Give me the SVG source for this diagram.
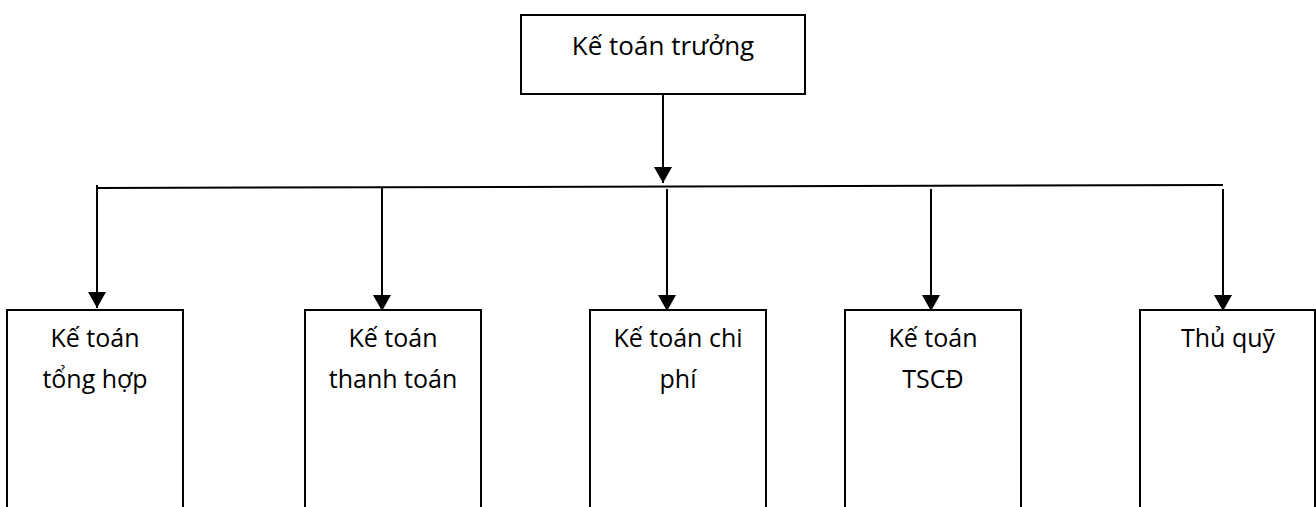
<svg xmlns="http://www.w3.org/2000/svg" width="1316" height="507" viewBox="0 0 1316 507">
<style>
.box{fill:#fff;stroke:#000;stroke-width:2}
.ln{fill:none;stroke:#000;stroke-width:2}
.t{font-family:"Open Sans","Noto Sans","DejaVu Sans",sans-serif;font-size:25px;fill:#000;text-anchor:middle}
.tt{font-size:26px}
</style>
<defs>
<marker id="ah" markerUnits="userSpaceOnUse" markerWidth="16" markerHeight="18" refX="16" refY="9" orient="auto">
<path d="M0,0 L16,9 L0,18 z" fill="#000"/>
</marker>
</defs>
<g id="connectors">
<line class="ln" x1="663" y1="94" x2="663" y2="183" marker-end="url(#ah)"/>
<line class="ln" x1="97" y1="188" x2="1223" y2="185"/>
<line class="ln" x1="97" y1="185" x2="97" y2="308" marker-end="url(#ah)"/>
<line class="ln" x1="382" y1="188" x2="382" y2="311" marker-end="url(#ah)"/>
<line class="ln" x1="667" y1="189" x2="667" y2="311" marker-end="url(#ah)"/>
<line class="ln" x1="931" y1="189" x2="931" y2="311" marker-end="url(#ah)"/>
<line class="ln" x1="1223" y1="189" x2="1223" y2="311" marker-end="url(#ah)"/>
</g>
<g id="ke-toan-truong">
<rect class="box" x="521" y="15" width="284" height="79"/>
<text class="t tt" x="663" y="55">Kế toán trưởng</text>
</g>
<g id="ke-toan-tong-hop">
<rect class="box" x="7" y="310" width="176" height="220"/>
<text class="t" x="95" y="347">Kế toán</text>
<text class="t" x="95" y="388">tổng hợp</text>
</g>
<g id="ke-toan-thanh-toan">
<rect class="box" x="305" y="310" width="176" height="220"/>
<text class="t" x="393" y="347">Kế toán</text>
<text class="t" x="393" y="388">thanh toán</text>
</g>
<g id="ke-toan-chi-phi">
<rect class="box" x="590" y="310" width="176" height="220"/>
<text class="t" x="678" y="347">Kế toán chi</text>
<text class="t" x="678" y="388">phí</text>
</g>
<g id="ke-toan-tscd">
<rect class="box" x="845" y="310" width="176" height="220"/>
<text class="t" x="933" y="347">Kế toán</text>
<text class="t" x="933" y="388">TSCĐ</text>
</g>
<g id="thu-quy">
<rect class="box" x="1140" y="310" width="175" height="220"/>
<text class="t" x="1228" y="347">Thủ quỹ</text>
</g>
</svg>
